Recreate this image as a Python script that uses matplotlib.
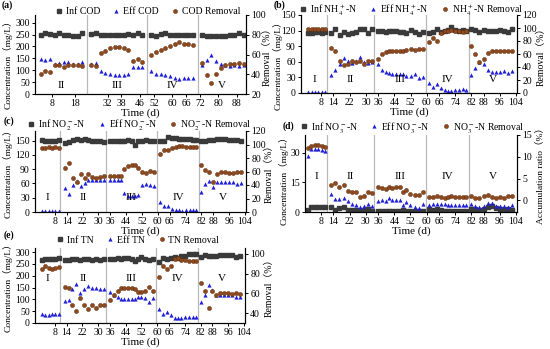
import matplotlib
matplotlib.use('Agg')
import matplotlib.pyplot as plt

plt.rcParams['font.family'] = ['Liberation Serif', 'Noto Sans CJK SC']
plt.rcParams['mathtext.fontset'] = 'stix'
plt.rcParams['font.size'] = 7

# ---------------- panel (a): COD ----------------
day_a = [3, 5, 7, 9, 11, 13, 15, 17, 19, 21,
         25, 27, 29, 31, 33, 35, 37, 39, 41, 43, 45, 47,
         51, 53, 55, 57, 59, 61, 63, 65, 67, 69,
         73, 75, 77, 79, 81, 83, 85, 87, 89, 91]
inf_cod = [248, 256, 252, 247, 258, 250, 249, 245, 243, 255,
           252, 255, 250, 248, 250, 250, 248, 247, 252, 250, 258, 250,
           248, 245, 252, 258, 250, 248, 247, 248, 246, 247,
           247, 245, 244, 244, 244, 244, 246, 250, 258, 250]
eff_cod = [148, 142, 146, 128, 132, 133, 133, 128, 126, 133,
           128, 132, 98, 90, 85, 80, 78, 78, 82, 112, 115, 112,
           98, 85, 83, 80, 76, 68, 65, 69, 69, 68,
           120, 142, 163, 140, 128, 120, 118, 120, 118, 120]
rem_cod = [40, 43, 42, 49, 49, 47, 49, 49, 49, 48,
           49, 48, 62, 64, 67, 68, 68, 67, 65, 53, 55, 52,
           60, 63, 65, 67, 69, 71, 73, 71, 71, 70,
           51, 39, 31, 40, 46, 49, 50, 50, 51, 50]
ticks_a = [8, 18, 32, 38, 46, 52, 60, 66, 72, 80, 88]
sep_a = [23.2, 49.1, 71.2]
phases_a = ['II', 'III', 'IV', 'V']

# ---------------- panels (b)-(e): sampling days ----------------
day_be = [1.5, 3.2, 4.9, 6.6, 8.3, 10,
          13, 15, 17, 19, 21, 23, 25, 27, 29, 31, 33,
          36, 38, 40, 41.5, 43, 45, 47, 48.5, 50, 52, 54, 56, 58,
          61, 63, 65, 67, 69, 70.5, 72, 74, 76, 78, 79.5,
          82, 84, 86, 88, 90, 92, 94, 96, 98, 100, 102]
ticks_be = [8, 14, 22, 30, 36, 44, 52, 60, 66, 74, 82, 88, 96, 104]
sep_be = [10.8, 33.8, 59.5, 80.8]
phases_be = ['I', 'II', 'III', 'IV', 'V']

# (b) NH4+-N
inf_nh4 = [116, 116, 117, 117, 116, 117,
           115, 124, 112, 118, 114, 116, 117, 123, 123, 115, 124,
           119, 119, 118, 119, 120, 119, 118, 117, 115, 121, 118, 114, 117,
           115, 118, 123, 118, 120, 122, 126, 122, 120, 122, 119,
           124, 122, 118, 121, 120, 119, 120, 121, 120, 118, 123]
eff_nh4 = [2, 2, 1, 2, 2, 1,
           35, 44, 56, 68, 62, 57, 61, 70, 60, 58, 60,
           55, 45, 40, 38, 37, 37, 36, 36, 33, 32, 36, 29, 31,
           20, 12, 17, 9, 6, 4, 4, 5, 5, 8, 5,
           35, 48, 60, 55, 44, 41, 41, 41, 43, 39, 42]
rem_nh4 = [98, 98, 99, 98, 99, 98,
           70, 65, 50, 43, 44, 49, 47, 50, 44, 49, 49,
           53, 60, 63, 64, 64, 64, 64, 65, 66, 67, 66, 68, 68,
           78, 85, 80, 93, 95, 96, 97, 96, 95, 94, 96,
           72, 60, 47, 53, 62, 64, 64, 64, 64, 65, 65]

# (c) NO2--N
inf_no2 = [152, 150, 149, 150, 150, 151,
           145, 146, 152, 153, 151, 153, 152, 150, 149, 148, 146,
           150, 150, 150, 150, 150, 151, 150, 140, 148, 150, 152, 150, 149,
           150, 148, 157, 156, 155, 154, 154, 153, 153, 152, 152,
           150, 149, 151, 152, 153, 153, 153, 152, 151, 151, 150]
eff_no2 = [3, 3, 3, 3, 3, 3,
           50, 38, 57, 65, 55, 60, 67, 68, 68, 68, 67,
           68, 68, 68, 68, 40, 34, 34, 34, 36, 56, 59, 56, 55,
           20, 12, 13, 7, 5, 4, 3, 5, 5, 5, 5,
           42, 58, 65, 52, 64, 62, 62, 63, 64, 58, 60]
rem_no2 = [95, 95, 96, 95, 96, 95,
           65, 72, 50, 44, 57, 51, 57, 52, 51, 52, 53,
           53, 53, 53, 53, 64, 68, 69, 70, 65, 60, 58, 61, 60,
           86, 92, 92, 95, 97, 98, 98, 97, 97, 97, 97,
           70, 62, 60, 45, 57, 59, 59, 58, 58, 60, 59]

# (d) NO3--N
inf_no3 = [0.8, 2.5, 2.5, 2.5, 2.5, 2.6,
           2.6, 1.2, 2.0, 2.6, 1.2, 1.0, 0.8, 0.6, 0.8, 1.5, 0.6,
           0.5, 0.6, 0.5, 0.6, 0.5, 0.6, 0.5, 0.8, 0.6, 0.5, 0.6, 0.5, 0.5,
           1.5, 1.2, 1.5, 1.0, 0.5, 0.6, 0.5, 0.5, 0.6, 0.5, 0.5,
           1.5, 1.5, 1.0, 1.5, 2.5, 3.0, 2.0, 1.5, 1.0, 1.5, 0.8]
eff_no3 = [28.5, 32, 32, 32, 31.5, 31,
           9, 6.5, 6.5, 7, 5.5, 4.3, 3.5, 2.6, 3.2, 4.0, 3.0,
           5.5, 6, 5.5, 7, 6, 6, 6.3, 3.5, 5, 3.5, 2.5, 2, 4,
           3.5, 4, 4.2, 4, 3.8, 3.5, 3.5, 3.5, 3.3, 3.3, 3.3,
           4, 3, 2.5, 3, 4.5, 4.5, 3, 3, 3, 2.5, 3.5]
rem_no3 = [12.0, 12.5, 12.8, 12.6, 12.5, 12.3,
           3.6, 4.0, 3.1, 3.4, 2.1, 2.0, 1.8, 0.8, 1.0, 1.8, 1.6,
           3.1, 2.9, 2.5, 3.1, 2.9, 3.0, 3.1, 2.0, 2.4, 1.4, 1.3, 1.1, 1.8,
           0.7, 0.8, 0.9, 0.8, 0.6, 0.8, 0.9, 0.8, 0.8, 0.8, 0.8,
           0.9, 0.6, 0.6, 0.9, 1.3, 0.8, 0.6, 0.8, 0.6, 1.0, 0.9]

# (e) TN
inf_tn = [268, 270, 270, 270, 272, 275,
          268, 268, 270, 272, 268, 270, 272, 268, 270, 268, 272,
          272, 272, 275, 272, 275, 273, 272, 262, 270, 278, 272, 265, 270,
          258, 275, 272, 275, 278, 276, 282, 282, 292, 290, 290,
          280, 288, 285, 282, 285, 288, 286, 288, 288, 280, 285]
eff_tn = [38, 35, 33, 40, 38, 36,
          95, 98, 143, 165, 125, 145, 155, 147, 148, 142, 145,
          130, 118, 108, 103, 103, 103, 103, 100, 110, 108, 105, 90, 105,
          60, 40, 45, 35, 20, 22, 22, 25, 25, 24, 25,
          88, 118, 162, 140, 118, 117, 117, 118, 117, 110, 112]
rem_tn = [85, 88, 86, 85, 86, 87,
          66, 65, 48, 42, 55, 48, 44, 48, 45, 48, 48,
          53, 58, 62, 65, 65, 65, 65, 64, 61, 61, 62, 66, 62,
          77, 88, 85, 88, 95, 96, 94, 94, 93, 93, 93,
          71, 62, 45, 62, 58, 60, 60, 60, 59, 60, 59]

INF_C = '#3a3a3a'
EFF_C = '#1f1fd6'
REM_C = '#8e4a1e'
W, H = 550, 349

fig = plt.figure(figsize=(5.5, 3.49), dpi=100)


def rect(l, r, t, b):
    return [l / W, 1 - b / H, (r - l) / W, (b - t) / H]


def panel(box, tag, tagpos, days, inf, eff, rem, names, ylim, yticks,
          rlim, rticks, xlim, xticks, seps, phases, phase_y, leg_x, leg_dy,
          lab_x, lab_y=0.5, rlabel='Removal（%）', rlab_size=7):
    ax = fig.add_axes(box)
    ax2 = ax.twinx()
    for s in seps:
        ax.axvline(s, color='#b8b8b8', lw=0.9, zorder=0)
    h1, = ax.plot(days, inf, 's', ms=2.4, color=INF_C)
    h2, = ax.plot(days, eff, '^', ms=3.0, color=EFF_C, mew=0)
    h3, = ax2.plot(days, rem, 'o', ms=3.0, color=REM_C, mec='#5a2a0c', mew=0.3)
    ax.set_xlim(*xlim)
    ax.set_ylim(*ylim)
    ax2.set_ylim(*rlim)
    ax.set_xticks(xticks)
    ax.set_yticks(yticks)
    ax2.set_yticks(rticks)
    for a in (ax, ax2):
        a.spines['top'].set_visible(False)
        for s in ('left', 'right', 'bottom'):
            a.spines[s].set_linewidth(0.8)
        a.tick_params(direction='out', length=2.5, width=0.7, pad=1.2,
                      labelsize=7)
    ax.set_xlabel('Time (d)', fontsize=8, labelpad=0)
    ax.set_ylabel('Concentration（mg/L）', fontsize=6.8)
    ax2.set_ylabel(rlabel, fontsize=rlab_size)
    ax.yaxis.set_label_coords(lab_x[0], lab_y)
    ax2.yaxis.set_label_coords(lab_x[1], 0.5)
    bounds = [xlim[0]] + list(seps) + [xlim[1]]
    for i, p in enumerate(phases):
        ax.text((bounds[i] + bounds[i + 1]) / 2, phase_y, p, ha='center',
                va='center', fontsize=8)
    ax.legend([h1, h2, h3], names, loc='center', ncol=3, frameon=False,
              bbox_to_anchor=(leg_x, 1 + leg_dy), fontsize=7,
              handletextpad=0.1, columnspacing=1.1, handlelength=1.2,
              borderaxespad=0, borderpad=0)
    fig.text(tagpos[0] / W, 1 - tagpos[1] / H, tag, fontsize=7,
             fontweight='bold', va='center')
    return ax


xlim_be = (-2, 104.5)

panel(rect(35, 246, 15, 94), '(a)', (2, 5), day_a, inf_cod, eff_cod, rem_cod,
      ['Inf COD', 'Eff COD', 'COD Removal'],
      (0, 332), range(0, 301, 50), (20, 100), range(20, 101, 20),
      (0.5, 92), ticks_a, sep_a, phases_a, 35, 0.53, 0.04, (-0.105, 1.08),
      lab_y=0.4)

panel(rect(301, 517, 15, 93), '(b)', (274, 5), day_be, inf_nh4, eff_nh4, rem_nh4,
      [r'Inf NH$_4^+$-N', r'Eff NH$_4^+$-N', r'NH$_4^+$-N Removal'],
      (0, 150), range(0, 151, 30), (0, 120), range(0, 121, 20),
      xlim_be, ticks_be, sep_be, phases_be, 25, 0.505, 0.065, (-0.084, 1.09),
      lab_y=0.38)

panel(rect(35, 246, 131, 212), '(c)', (4, 121), day_be, inf_no2, eff_no2, rem_no2,
      [r'Inf NO$_2^-$-N', r'Eff NO$_2^-$-N', r'NO$_2^-$-N Removal'],
      (0, 170), range(0, 151, 30), (0, 120), range(0, 121, 20),
      xlim_be, ticks_be, sep_be, phases_be, 30, 0.49, 0.075, (-0.105, 1.09))

panel(rect(305, 517, 135, 212), '(d)', (283, 126), day_be, inf_no3, eff_no3, rem_no3,
      [r'Inf NO$_3^-$-N', r'Eff NO$_3^-$-N', r'NO$_3^-$-N Removal'],
      (0, 39), [0, 15, 30], (-2.7, 15), [0, 5, 10, 15],
      (0, 104.5), ticks_be, sep_be, phases_be, 18, 0.5, 0.1, (-0.075, 1.085),
      lab_y=0.44, rlabel='Accumulation ratio（%）', rlab_size=6.8)

panel(rect(35, 245, 248, 323), '(e)', (4, 235), day_be, inf_tn, eff_tn, rem_tn,
      ['Inf TN', 'Eff TN', 'TN Removal'],
      (0, 317), range(0, 301, 50), (30, 106), range(40, 101, 20),
      xlim_be, ticks_be, sep_be, phases_be, 190, 0.485, 0.105, (-0.105, 1.095))

fig.savefig('out.png', dpi=100)
